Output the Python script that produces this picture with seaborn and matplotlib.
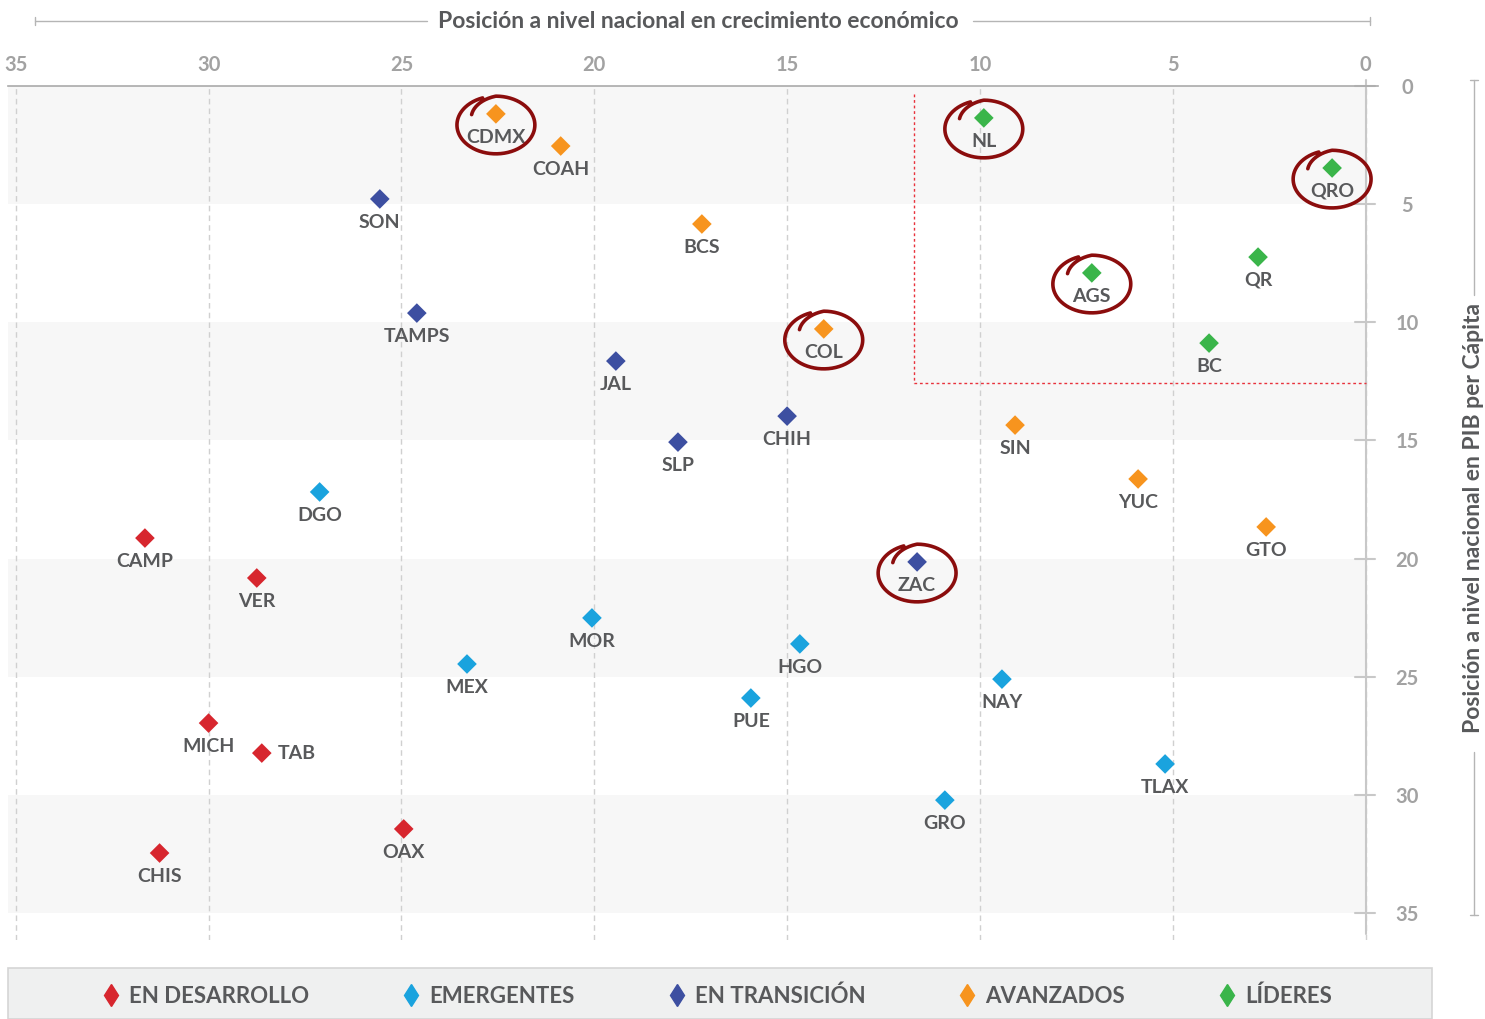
import numpy as np
import pandas as pd
import matplotlib.pyplot as plt
import seaborn as sns
from matplotlib.lines import Line2D
from matplotlib.patches import Rectangle


# datos

estados = ["CDMX", "COAH", "SON", "BCS", "NL", "QRO", "QR", "AGS", "TAMPS", "COL",
           "BC", "JAL", "CHIH", "SIN", "SLP", "DGO", "YUC", "GTO", "CAMP", "ZAC",
           "VER", "MOR", "HGO", "MEX", "NAY", "PUE", "MICH", "TAB", "TLAX", "GRO",
           "OAX", "CHIS"]
crecimiento = [22.55, 20.87, 25.56, 17.21, 9.90, 0.87, 2.79, 7.10, 24.60, 14.05,
               4.06, 19.44, 15.00, 9.09, 17.83, 27.12, 5.90, 2.58, 31.65, 11.63,
               28.75, 20.06, 14.67, 23.30, 9.43, 15.94, 30.00, 28.62, 5.20, 10.91,
               24.94, 31.27]
pib = [1.18, 2.54, 4.78, 5.84, 1.35, 3.47, 7.24, 7.91, 9.61, 10.28,
       10.88, 11.64, 13.97, 14.35, 15.07, 17.18, 16.63, 18.66, 19.13, 20.14,
       20.82, 22.51, 23.61, 24.46, 25.10, 25.90, 26.96, 28.23, 28.69, 30.22,
       31.44, 32.46]
grupo = ["AVANZADOS", "AVANZADOS", "EN TRANSICIÓN", "AVANZADOS", "LÍDERES",
         "LÍDERES", "LÍDERES", "LÍDERES", "EN TRANSICIÓN", "AVANZADOS",
         "LÍDERES", "EN TRANSICIÓN", "EN TRANSICIÓN", "AVANZADOS", "EN TRANSICIÓN",
         "EMERGENTES", "AVANZADOS", "AVANZADOS", "EN DESARROLLO", "EN TRANSICIÓN",
         "EN DESARROLLO", "EMERGENTES", "EMERGENTES", "EMERGENTES", "EMERGENTES",
         "EMERGENTES", "EN DESARROLLO", "EN DESARROLLO", "EMERGENTES", "EMERGENTES",
         "EN DESARROLLO", "EN DESARROLLO"]

grupos = ["EN DESARROLLO", "EMERGENTES", "EN TRANSICIÓN", "AVANZADOS", "LÍDERES"]
colores = ["#d7262e", "#1aa3de", "#3d4fa1", "#f7941e", "#3ab54a"]
marcados = ["CDMX", "NL", "QRO", "AGS", "COL", "ZAC"]

df = pd.DataFrame({"estado": estados, "crecimiento": crecimiento,
                   "pib": pib, "grupo": grupo})

sns.set_style("white")
plt.rcParams["font.family"] = ["Lato", "DejaVu Sans"]

texto = "#58595b"
gris = "#a2a2a2"

fig = plt.figure(figsize=(14.85, 10.19), dpi=100)
ax = fig.add_axes([8 / 1485, 1 - 940 / 1019, 1370 / 1485, 854 / 1019])

# franjas alternas
for y0 in [0, 10, 20, 30]:
    ax.fill_between([35.2, 0], y0, y0 + 5, color="#f7f7f7", zorder=0, lw=0)

sns.scatterplot(data=df, x="crecimiento", y="pib", hue="grupo",
                hue_order=grupos, palette=colores, marker="D", s=100,
                linewidth=0, legend=False, ax=ax, zorder=4)

for _, r in df.iterrows():
    if r.estado == "TAB":
        ax.annotate(r.estado, (r.crecimiento, r.pib), xytext=(11.5, 0),
                    textcoords="offset points", ha="left", va="center",
                    fontsize=14, weight="bold", color=texto, zorder=5)
    else:
        ax.annotate(r.estado, (r.crecimiento, r.pib), xytext=(0, -16.8),
                    textcoords="offset points", ha="center", va="center",
                    fontsize=14, weight="bold", color=texto, zorder=5)

# círculos a mano
for _, r in df[df.estado.isin(marcados)].iterrows():
    cx, cy = r.crecimiento, r.pib + 0.47
    a, b = 1.01, 1.22
    t = np.linspace(0, np.deg2rad(400), 300)
    th = np.deg2rad(150) - t
    rad = np.where(t < np.deg2rad(60), 0.72 + 0.28 * t / np.deg2rad(60), 1.0)
    ax.plot(cx - a * rad * np.cos(th), cy - b * rad * np.sin(th),
            color="#8b0d0d", lw=2.6, zorder=6, solid_capstyle="round")

# recuadro punteado
ax.plot([11.7, 11.7, 0], [0.35, 12.55, 12.55], color="#e8323c", lw=1,
        ls=(0, (2, 2)), zorder=3)

# eje derecho
ax.plot([0, 0], [-0.25, 35.9], color="#c8c8c8", lw=1.5, clip_on=False, zorder=2)
for yt in range(0, 36, 5):
    ax.plot([0.27, -0.25], [yt, yt], color="#c8c8c8", lw=1.5, clip_on=False, zorder=2)

ax.set_xlim(35.2, -0.32)
ax.set_ylim(36.14, 0)
ax.set_xticks(range(0, 36, 5))
ax.set_yticks(range(0, 36, 5))
ax.xaxis.tick_top()
ax.yaxis.tick_right()
ax.tick_params(axis="x", length=0, pad=8, labelsize=14.5, labelcolor=gris)
ax.tick_params(axis="y", length=0, pad=21, labelsize=14.5, labelcolor=gris)
for lab in ax.get_xticklabels() + ax.get_yticklabels():
    lab.set_fontweight("bold")
for lab in ax.get_yticklabels():
    lab.set_ha("center")
ax.set_xlabel("")
ax.set_ylabel("")
ax.grid(axis="x", ls=(0, (4, 3)), color="#d0d0d0", lw=1)
ax.grid(axis="y", visible=False)
ax.set_axisbelow(True)
for s in ["left", "right", "bottom"]:
    ax.spines[s].set_visible(False)
ax.spines["top"].set_color("#aaaaaa")
ax.spines["top"].set_linewidth(1.2)


# títulos con líneas
def fx(px):
    return px / 1485


def fy(py):
    return 1 - py / 1019


lc = "#b5b5b5"
fig.text(fx(698), fy(21), "Posición a nivel nacional en crecimiento económico",
         ha="center", va="center", fontsize=16.5, weight="bold", color=texto)
fig.add_artist(Line2D([fx(35), fx(427)], [fy(21), fy(21)], color=lc, lw=1))
fig.add_artist(Line2D([fx(973), fx(1370)], [fy(21), fy(21)], color=lc, lw=1))
fig.add_artist(Line2D([fx(35), fx(35)], [fy(17), fy(25)], color=lc, lw=1))
fig.add_artist(Line2D([fx(1370), fx(1370)], [fy(17), fy(25)], color=lc, lw=1))

fig.text(fx(1474), fy(518), "Posición a nivel nacional en PIB per Cápita",
         ha="center", va="center", rotation=90, fontsize=16.5, weight="bold",
         color=texto)
fig.add_artist(Line2D([fx(1474), fx(1474)], [fy(80), fy(295)], color=lc, lw=1))
fig.add_artist(Line2D([fx(1474), fx(1474)], [fy(752), fy(915)], color=lc, lw=1))
fig.add_artist(Line2D([fx(1470), fx(1478)], [fy(80), fy(80)], color=lc, lw=1))
fig.add_artist(Line2D([fx(1470), fx(1478)], [fy(915), fy(915)], color=lc, lw=1))

# leyenda
fig.patches.append(Rectangle((fx(8), 0), 1424 / 1485, 51 / 1019,
                             transform=fig.transFigure, facecolor="#eff0f0",
                             edgecolor="#d5d5d5", lw=1.2, zorder=0))
handles = [Line2D([], [], marker="d", ls="", color=c, markersize=11.5)
           for c in colores]
fig.legend(handles, grupos, ncol=5, loc="center",
           bbox_to_anchor=(fx(716), fy(996)), frameon=False,
           columnspacing=4.1, handletextpad=0.3, handlelength=1,
           prop=dict(weight="bold", size=16), labelcolor=texto)

fig.savefig("out.png", dpi=100)
